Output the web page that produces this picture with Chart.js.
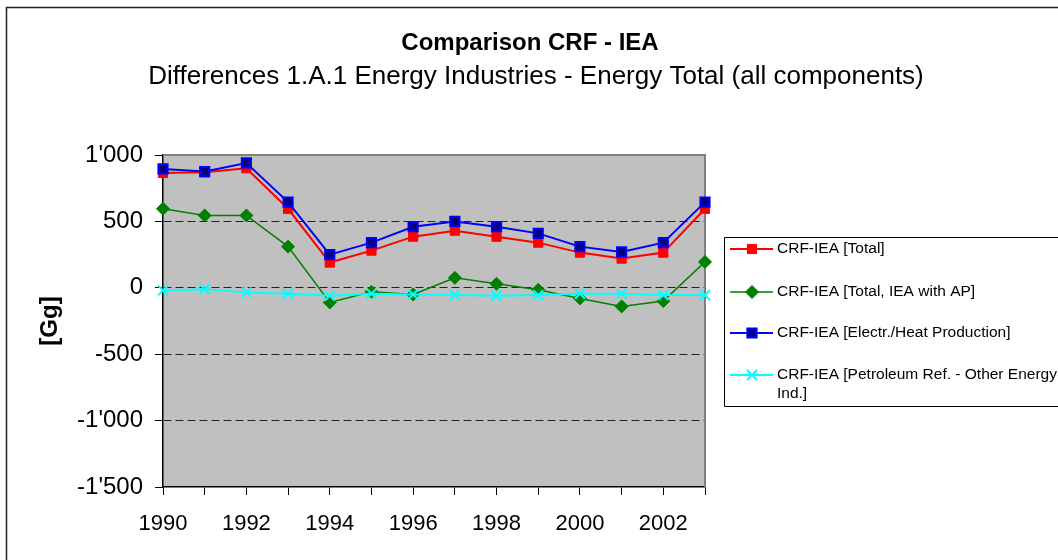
<!DOCTYPE html>
<html>
<head>
<meta charset="utf-8">
<title>Comparison CRF - IEA</title>
<script src="https://cdn.jsdelivr.net/npm/chart.js@4.4.1/dist/chart.umd.min.js"></script>
<style>
  body { margin: 0; background: #fff; }
  canvas { display: block; }
</style>
</head>
<body>
<canvas id="crfChart" width="1058" height="560"></canvas>
<script>
// --- Data (Gg) ---
const years = ['1990', '1991', '1992', '1993', '1994', '1995', '1996', '1997', '1998', '1999', '2000', '2001', '2002', '2003'];
const totalDiff = [865, 870, 900, 595, 190, 280, 385, 430, 385, 340, 265, 220, 265, 595];
const totalWithAp = [595, 545, 545, 310, -110, -30, -50, 75, 30, -15, -80, -140, -100, 195];
const electrHeat = [895, 875, 940, 645, 250, 340, 460, 500, 460, 410, 310, 270, 340, 645];
const petroleumRef = [-20, -10, -35, -45, -60, -45, -50, -55, -60, -55, -45, -45, -55, -55];
const yTicks = [-1500, -1000, -500, 0, 500, 1000];

const titleText = 'Comparison CRF - IEA';
const subtitleText = 'Differences 1.A.1 Energy Industries - Energy Total (all components)';
const FONT = '"Liberation Sans", Arial, sans-serif';

// format numbers like 1'000
function swissFormat(v) {
    const s = Math.abs(v).toString().replace(/\B(?=(\d{3})+(?!\d))/g, "'");
    return (v < 0 ? '-' : '') + s;
}

// gray plot area + frame + titles
const framePlugin = {
    id: 'frame',
    beforeDraw(chart) {
        const { ctx, chartArea: a } = chart;
        ctx.save();
        ctx.fillStyle = '#fff';
        ctx.fillRect(0, 0, chart.width, chart.height);
        ctx.fillStyle = '#c0c0c0';
        ctx.fillRect(a.left, a.top, a.right - a.left, a.bottom - a.top);
        // outer border
        ctx.strokeStyle = '#222';
        ctx.lineWidth = 1.5;
        ctx.beginPath();
        ctx.moveTo(6.5, chart.height);
        ctx.lineTo(6.5, 7.5);
        ctx.lineTo(chart.width, 7.5);
        ctx.stroke();
        ctx.restore();
    },
    beforeDatasetsDraw(chart) {
        const { ctx, chartArea: a } = chart;
        ctx.save();
        ctx.strokeStyle = '#808080';
        ctx.lineWidth = 2;
        ctx.beginPath();
        ctx.moveTo(a.left, a.top);
        ctx.lineTo(a.right, a.top);
        ctx.lineTo(a.right, a.bottom);
        ctx.stroke();
        ctx.restore();
    },
    afterDraw(chart) {
        const ctx = chart.ctx;
        ctx.save();
        ctx.fillStyle = '#000';
        ctx.textAlign = 'center';
        ctx.textBaseline = 'middle';
        ctx.font = 'bold 24px ' + FONT;
        ctx.fillText(titleText, 530, 43);
        ctx.font = '26px ' + FONT;
        ctx.fillText(subtitleText, 536, 77);
        ctx.restore();
    }
};

// boxed legend on the right, like the spreadsheet one
const boxLegendPlugin = {
    id: 'boxLegend',
    afterDraw(chart) {
        const { ctx } = chart;
        const left = 724, top = 237, bottom = 406;
        const rows = [249, 292, 333, 375];
        ctx.save();
        ctx.fillStyle = '#fff';
        ctx.fillRect(left, top, chart.width - left, bottom - top);
        ctx.strokeStyle = '#000';
        ctx.lineWidth = 1;
        ctx.beginPath();
        ctx.moveTo(chart.width, top + 0.5);
        ctx.lineTo(left + 0.5, top + 0.5);
        ctx.lineTo(left + 0.5, bottom + 0.5);
        ctx.lineTo(chart.width, bottom + 0.5);
        ctx.stroke();

        chart.data.datasets.forEach((ds, i) => {
            const y = rows[i];
            ctx.strokeStyle = ds.borderColor;
            ctx.lineWidth = ds.borderWidth;
            ctx.beginPath();
            ctx.moveTo(730, y);
            ctx.lineTo(773, y);
            ctx.stroke();
            ctx.fillStyle = ds.pointBackgroundColor;
            ctx.strokeStyle = ds.pointBorderColor;
            ctx.lineWidth = ds.pointBorderWidth;
            Chart.helpers.drawPoint(ctx, {
                pointStyle: ds.pointStyle,
                radius: ds.pointRadius,
                rotation: 0,
                borderWidth: ds.pointBorderWidth
            }, 752, y);
            ctx.fillStyle = '#000';
            ctx.font = '15.5px ' + FONT;
            ctx.textAlign = 'left';
            ctx.textBaseline = 'middle';
            const lines = Array.isArray(ds.legendLines) ? ds.legendLines : [ds.label];
            lines.forEach((t, k) => ctx.fillText(t, 777, y + k * 19));
        });
        ctx.restore();
    }
};

const ctx = document.getElementById('crfChart');

new Chart(ctx, {
    type: 'line',
    data: {
        labels: years,
        datasets: [
            {
                label: 'CRF-IEA [Total]',
                data: totalDiff,
                borderColor: '#ff0000',
                borderWidth: 2,
                pointStyle: 'rect',
                pointRadius: 6.5,
                pointBackgroundColor: '#ff0000',
                pointBorderColor: '#ff0000',
                pointBorderWidth: 1,
                order: 4
            },
            {
                label: 'CRF-IEA [Total, IEA with AP]',
                data: totalWithAp,
                borderColor: '#008000',
                borderWidth: 1.5,
                pointStyle: 'rectRot',
                pointRadius: 6.5,
                pointBackgroundColor: '#008000',
                pointBorderColor: '#008000',
                pointBorderWidth: 1,
                order: 3
            },
            {
                label: 'CRF-IEA [Electr./Heat Production]',
                data: electrHeat,
                borderColor: '#0000ff',
                borderWidth: 2,
                pointStyle: 'rect',
                pointRadius: 6.5,
                pointBackgroundColor: '#000080',
                pointBorderColor: '#0000ff',
                pointBorderWidth: 2,
                order: 2
            },
            {
                label: 'CRF-IEA [Petroleum Ref. - Other Energy Ind.]',
                legendLines: ['CRF-IEA [Petroleum Ref. - Other Energy', 'Ind.]'],
                data: petroleumRef,
                borderColor: '#00ffff',
                borderWidth: 2,
                pointStyle: 'crossRot',
                pointRadius: 7,
                pointBackgroundColor: '#00ffff',
                pointBorderColor: '#00ffff',
                pointBorderWidth: 2,
                order: 1
            }
        ]
    },
    options: {
        responsive: false,
        animation: false,
        clip: false,
        layout: { padding: { top: 155, right: 353, bottom: 0, left: 0 } },
        elements: { line: { tension: 0 } },
        scales: {
            x: {
                offset: false,
                afterFit: (scale) => { scale.height = 73; },
                grid: {
                    color: 'transparent',
                    drawTicks: true,
                    tickLength: 8,
                    tickColor: '#000',
                    tickWidth: 1
                },
                border: { color: '#000', width: 1.5 },
                ticks: {
                    autoSkip: false,
                    maxRotation: 0,
                    padding: 16,
                    color: '#000',
                    font: { family: FONT, size: 22 },
                    callback: function(value, index) {
                        return index % 2 === 0 ? years[index] : '';
                    }
                }
            },
            y: {
                min: yTicks[0],
                max: yTicks[yTicks.length - 1],
                afterFit: (scale) => { scale.width = 163; },
                afterBuildTicks: (scale) => { scale.ticks = yTicks.map(v => ({ value: v })); },
                grid: {
                    color: (c) => (c.tick && (c.tick.value === 1000 || c.tick.value === -1500)) ? 'transparent' : '#222',
                    lineWidth: 1,
                    drawTicks: true,
                    tickLength: 8,
                    tickColor: '#000',
                    tickBorderDash: [],
                    tickWidth: 1
                },
                border: { color: '#000', width: 1.5, dash: [8, 4] },
                ticks: {
                    padding: 12,
                    color: '#000',
                    font: { family: FONT, size: 24 },
                    callback: (v) => swissFormat(v)
                },
                title: {
                    display: true,
                    text: '[Gg]',
                    color: '#000',
                    font: { family: FONT, size: 24, weight: 'bold' },
                    padding: { top: 36, bottom: 0 }
                }
            }
        },
        plugins: {
            legend: { display: false },
            title: { display: false },
            tooltip: { enabled: false }
        }
    },
    plugins: [framePlugin, boxLegendPlugin]
});
</script>
</body>
</html>
